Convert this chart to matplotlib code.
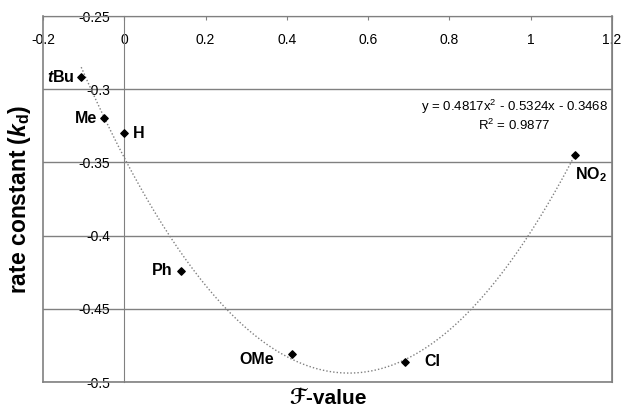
import matplotlib.pyplot as plt
import numpy as np

plt.rcParams['font.family'] = ['Liberation Sans', 'DejaVu Sans']
plt.rcParams['mathtext.fontset'] = 'custom'
plt.rcParams['mathtext.rm'] = 'Liberation Sans'
plt.rcParams['mathtext.it'] = 'Liberation Sans:italic'
plt.rcParams['mathtext.bf'] = 'Liberation Sans:bold'
plt.rcParams['mathtext.bfit'] = 'Liberation Sans:italic:bold'

# data
names = ['$\\mathbfit{t}$Bu', 'Me', 'H', 'Ph', 'OMe', 'Cl', 'NO$_\\mathbf{2}$']
fvalue = [-0.106, -0.050, 0.0, 0.139, 0.413, 0.690, 1.108]
rate = [-0.292, -0.320, -0.330, -0.424, -0.481, -0.486, -0.345]
# offsets of the point labels (points)
offsets = [(-5, 0), (-5, 0), (6, 0), (-6, 0), (-13, -4), (14, 0), (0, -14)]
aligns = ['right', 'right', 'left', 'right', 'right', 'left', 'left']

fit_coef = [0.4817, -0.5324, -0.3468]
r2 = 0.9877

xticks = [-0.2, 0, 0.2, 0.4, 0.6, 0.8, 1, 1.2]
xtick_labels = ['-0.2', '0', '0.2', '0.4', '0.6', '0.8', '1', '1.2']
yticks = [-0.25, -0.3, -0.35, -0.4, -0.45, -0.5]
ytick_labels = ['-0.25', '-0.3', '-0.35', '-0.4', '-0.45', '-0.5']

fig = plt.figure(figsize=(6.22, 4.08), dpi=100)
ax = fig.add_axes([43 / 622, 26 / 408, 569 / 622, 366 / 408])
gray = '#808080'

# trendline
xs = np.linspace(min(fvalue), max(fvalue), 200)
ax.plot(xs, np.polyval(fit_coef, xs), linestyle=(0, (1, 1.5)), color=gray, linewidth=1)

ax.scatter(fvalue, rate, marker='D', s=14, color='black', zorder=3)
for n, x, y, off, ha in zip(names, fvalue, rate, offsets, aligns):
    ax.annotate(n, (x, y), textcoords='offset points', xytext=off, ha=ha, va='center',
                fontsize=11.5, fontweight='bold')

ax.text(1.19, -0.318,
        'y = 0.4817x$^2$ - 0.5324x - 0.3468\nR$^2$ = %.4f' % r2,
        ha='right', va='center', multialignment='center', fontsize=9.5)

ax.set_xlim(-0.2, 1.2)
ax.set_ylim(-0.5, -0.25)
ax.set_xticks(xticks, xtick_labels)
ax.set_yticks(yticks, ytick_labels)

# excel style: x axis crosses at the top, y axis at zero
ax.spines['bottom'].set_position(('data', -0.25))
ax.spines['left'].set_position(('data', 0))
for s in ax.spines.values():
    s.set_color(gray)
ax.axhline(-0.5, color=gray, linewidth=1.2, clip_on=False)
ax.axvline(-0.2, color=gray, linewidth=1.2, clip_on=False)
ax.axvline(1.2, color=gray, linewidth=1.2, clip_on=False)
ax.tick_params(axis='x', direction='out', length=3, color=gray, pad=9, labelsize=10)
ax.tick_params(axis='y', length=0, pad=10, labelsize=10)
ax.yaxis.grid(True, color=gray, linewidth=1)
ax.set_axisbelow(True)

ax.set_xlabel('\u2131-value', fontsize=15, fontweight='bold')
ax.xaxis.set_label_coords(0.5, -0.02)
ax.xaxis.label.set_verticalalignment('top')
ax.set_ylabel('rate constant ($\\mathbfit{k}_\\mathbf{d}$)', fontsize=16.5, fontweight='bold')
ax.yaxis.set_label_coords(-0.017, 0.5)

fig.savefig('out.png', dpi=100)
